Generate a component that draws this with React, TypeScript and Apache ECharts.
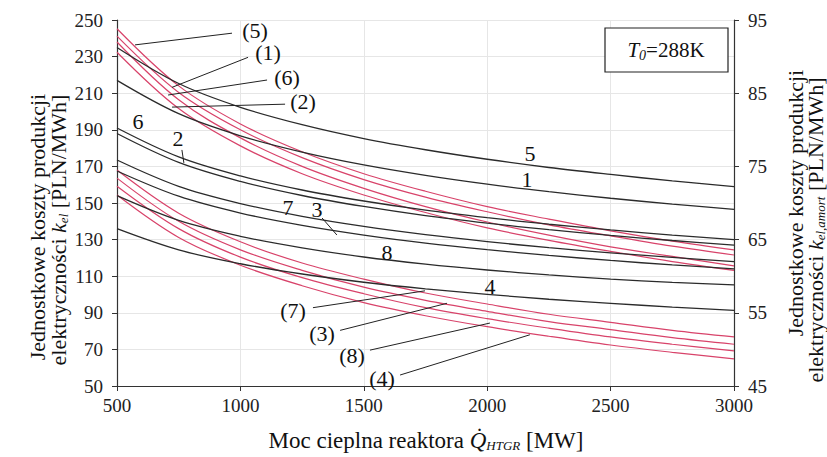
import React, { useEffect, useRef } from "react";
import * as echarts from "echarts";

// Thermal power of the reactor [MW]
const Q = [500, 750, 1000, 1250, 1500, 1750, 2000, 2250, 2500, 2750, 3000];

// Black curves: k_el [PLN/MWh] (left axis)
const black5 = [235, 215.3, 202.3, 192.8, 185.2, 179.1, 173.9, 169.4, 165.6, 162.1, 159];
const black1 = [217, 198.8, 186.7, 177.8, 170.8, 165.1, 160.3, 156.2, 152.6, 149.4, 146.5];
const black6 = [191, 175.2, 164.8, 157.1, 151.1, 146.1, 142.0, 138.4, 135.3, 132.5, 130];
const black2 = [188, 172.2, 161.8, 154.1, 148.1, 143.1, 139.0, 135.4, 132.3, 129.5, 127];
const black7 = [173.5, 159.1, 149.7, 142.7, 137.2, 132.7, 128.9, 125.6, 122.8, 120.3, 118];
const black3 = [167.5, 153.7, 144.5, 137.8, 132.5, 128.1, 124.5, 121.4, 118.6, 116.2, 114];
const black8 = [154, 140.5, 131.8, 125.5, 120.5, 116.6, 113.4, 110.7, 108.4, 106.6, 105.3];
const black4 = [136, 124.4, 116.8, 111.2, 106.7, 103.1, 100.1, 97.4, 95.2, 93.1, 91.3];

// Red curves: k_el,amort [PLN/MWh] (right axis)
const red5 = [93.8, 86.0, 80.8, 77.0, 74.0, 71.6, 69.5, 67.8, 66.2, 64.8, 63.6];
const red1 = [92.8, 85.1, 80.0, 76.2, 73.2, 70.8, 68.8, 67.0, 65.5, 64.1, 62.9];
const red6 = [92.0, 84.1, 78.9, 75.0, 72.0, 69.5, 67.4, 65.6, 64.0, 62.7, 61.4];
const red2 = [90.6, 82.9, 77.8, 74.0, 71.1, 68.7, 66.6, 64.9, 63.4, 62.0, 60.8];
const red7 = [74.5, 68.6, 64.7, 61.8, 59.6, 57.7, 56.2, 54.8, 53.7, 52.6, 51.7];
const red3 = [73.4, 67.5, 63.6, 60.8, 58.5, 56.7, 55.2, 53.8, 52.7, 51.6, 50.7];
const red8 = [72.3, 66.5, 62.6, 59.8, 57.6, 55.7, 54.2, 52.9, 51.7, 50.7, 49.8];
const red4 = [71.1, 65.3, 61.5, 58.7, 56.4, 54.6, 53.1, 51.8, 50.6, 49.6, 48.7];

// Axis ranges [min, max, interval]
const xRange = [500, 3000, 500];
const leftRange = [50, 250, 20];
const rightRange = [45, 95, 10];

// Curve labels: [text, Q, value, axisIndex]
const curveLabels: [string, number, number, number][] = [
  ["5", 2173, 177.3, 0],
  ["1", 2161, 162.6, 0],
  ["6", 585, 194.3, 0],
  ["2", 747, 185.5, 0],
  ["7", 1193, 147.8, 0],
  ["3", 1310, 146.2, 0],
  ["8", 1594, 122.7, 0],
  ["4", 2011, 104.1, 0],
  ["(5)", 1059, 93.6, 1],
  ["(1)", 1112, 90.5, 1],
  ["(6)", 1189, 87.2, 1],
  ["(2)", 1254, 83.8, 1],
  ["(7)", 1213, 55.25, 1],
  ["(3)", 1331, 52.2, 1],
  ["(8)", 1452, 49.1, 1],
  ["(4)", 1574, 46.0, 1],
];

// Leader lines: [Q1, v1, Q2, v2, axisIndex]
const leaders: [number, number, number, number, number][] = [
  [763, 179, 771, 171.9, 0],
  [1331, 141.8, 1391, 132.5, 0],
  [966, 93.2, 573, 91.6, 1],
  [1031, 89.9, 723, 85.8, 1],
  [1108, 86.8, 707, 84.75, 1],
  [1181, 83.5, 723, 83.1, 1],
  [1294, 55.7, 1748, 58.0, 1],
  [1404, 52.6, 1837, 56.3, 1],
  [1525, 49.9, 2011, 53.6, 1],
  [1647, 46.5, 2173, 52.0, 1],
];

const FONT = "'Liberation Serif', 'Times New Roman', serif";
const RED = "#d8436a";
const BLACK = "#2b2b2b";

const blackSets = [black5, black1, black6, black2, black7, black3, black8, black4];
const redSets = [red5, red1, red6, red2, red7, red3, red8, red4];
const names = ["5", "1", "6", "2", "7", "3", "8", "4"];

export default function App() {
  const ref = useRef<HTMLDivElement>(null);
  useEffect(() => {
    if (!ref.current) return;
    const chart = echarts.init(ref.current, undefined, { renderer: "svg" });
    const series: any[] = [];
    blackSets.forEach((d, i) => {
      series.push({
        name: names[i],
        type: "line",
        yAxisIndex: 0,
        data: Q.map((q, j) => [q, d[j]]),
        showSymbol: false,
        smooth: 0.35,
        lineStyle: { color: BLACK, width: 1.3 },
        z: 3,
      });
    });
    redSets.forEach((d, i) => {
      series.push({
        name: "(" + names[i] + ")",
        type: "line",
        yAxisIndex: 1,
        data: Q.map((q, j) => [q, d[j]]),
        showSymbol: false,
        smooth: 0.35,
        lineStyle: { color: RED, width: 1.2 },
        z: 2,
      });
    });
    const axisLabel = {
      color: "#222",
      fontFamily: FONT,
      fontSize: 19,
      formatter: (v: number) => String(v),
    };
    chart.setOption({
      animation: false,
      backgroundColor: "#fff",
      grid: { left: 117, right: 93, top: 20, bottom: 71 },
      xAxis: {
        type: "value",
        min: xRange[0],
        max: xRange[1],
        interval: xRange[2],
        axisLine: { lineStyle: { color: "#333", width: 1.2 } },
        axisTick: { show: true, length: 5, lineStyle: { color: "#333" } },
        axisLabel: { ...axisLabel, margin: 10 },
        splitLine: { show: true, lineStyle: { color: "#e6e6e6", width: 1 } },
      },
      yAxis: [
        {
          type: "value",
          min: leftRange[0],
          max: leftRange[1],
          interval: leftRange[2],
          axisLine: { show: true, lineStyle: { color: "#333", width: 1.2 } },
          axisTick: { show: true, length: 5, lineStyle: { color: "#333" } },
          axisLabel: { ...axisLabel, margin: 14 },
          splitLine: { show: true, lineStyle: { color: "#e6e6e6", width: 1 } },
        },
        {
          type: "value",
          min: rightRange[0],
          max: rightRange[1],
          interval: rightRange[2],
          position: "right",
          axisLine: { show: true, lineStyle: { color: "#333", width: 1.2 } },
          axisTick: { show: true, length: 5, lineStyle: { color: "#333" } },
          axisLabel: { ...axisLabel, margin: 14 },
          splitLine: { show: false },
        },
      ],
      series,
    });

    const px = (q: number, v: number, ai: number) =>
      chart.convertToPixel({ xAxisIndex: 0, yAxisIndex: ai } as any, [q, v]) as number[];

    const graphic: any[] = [];
    leaders.forEach(([q1, v1, q2, v2, ai]) => {
      const a = px(q1, v1, ai);
      const b = px(q2, v2, ai);
      graphic.push({
        type: "line",
        shape: { x1: a[0], y1: a[1], x2: b[0], y2: b[1] },
        style: { stroke: "#222", lineWidth: 1 },
        z: 10,
      });
    });
    curveLabels.forEach(([t, q, v, ai]) => {
      const p = px(q, v, ai);
      graphic.push({
        type: "text",
        x: p[0],
        y: p[1],
        style: {
          text: t,
          fill: "#111",
          font: `22px ${FONT}`,
          align: "center",
          verticalAlign: "middle",
        },
        z: 11,
      });
    });
    // T0 box
    graphic.push({
      type: "rect",
      shape: { x: 605, y: 28, width: 123, height: 44 },
      style: { fill: "#fff", stroke: "#222", lineWidth: 1.2 },
      z: 12,
    });
    graphic.push({
      type: "text",
      x: 666,
      y: 50,
      style: {
        text: "{i|T}{s|0}{n|=288K}",
        align: "center",
        verticalAlign: "middle",
        rich: {
          i: { fontFamily: FONT, fontSize: 21, fontStyle: "italic", fill: "#111" },
          s: { fontFamily: FONT, fontSize: 14, fontStyle: "italic", fill: "#111", verticalAlign: "bottom", padding: [10, 0, 0, 0] },
          n: { fontFamily: FONT, fontSize: 21, fill: "#111" },
        },
      },
      z: 13,
    });
    // Axis titles
    const titleRich = {
      n: { fontFamily: FONT, fontSize: 22, fill: "#111" },
      i: { fontFamily: FONT, fontSize: 22, fontStyle: "italic", fill: "#111" },
      s: { fontFamily: FONT, fontSize: 13, fontStyle: "italic", fill: "#111", verticalAlign: "bottom", padding: [10, 0, 0, 0] },
    };
    const xTitleRich = {
      n: { fontFamily: FONT, fontSize: 23, fill: "#111" },
      i: { fontFamily: FONT, fontSize: 23, fontStyle: "italic", fill: "#111" },
      s: { fontFamily: FONT, fontSize: 13, fontStyle: "italic", fill: "#111", verticalAlign: "bottom", padding: [10, 0, 0, 0] },
    };
    graphic.push({
      type: "text",
      x: 426,
      y: 440,
      style: {
        text: "{n|Moc cieplna reaktora }{i|Q̇}{s|HTGR}{n| [MW]}",
        align: "center",
        verticalAlign: "middle",
        rich: xTitleRich,
      },
    });
    graphic.push({
      type: "text",
      x: 37,
      y: 227,
      rotation: Math.PI / 2,
      style: {
        text: "{n|Jednostkowe koszty produkcji}",
        align: "center",
        verticalAlign: "middle",
        rich: titleRich,
      },
    });
    graphic.push({
      type: "text",
      x: 58,
      y: 230,
      rotation: Math.PI / 2,
      style: {
        text: "{n|elektryczności }{i|k}{s|el}{n| [PLN/MWh]}",
        align: "center",
        verticalAlign: "middle",
        rich: titleRich,
      },
    });
    graphic.push({
      type: "text",
      x: 795,
      y: 203,
      rotation: Math.PI / 2,
      style: {
        text: "{n|Jednostkowe koszty produkcji}",
        align: "center",
        verticalAlign: "middle",
        rich: titleRich,
      },
    });
    graphic.push({
      type: "text",
      x: 815,
      y: 230,
      rotation: Math.PI / 2,
      style: {
        text: "{n|elektryczności }{i|k}{s|el,amort}{n| [PLN/MWh]}",
        align: "center",
        verticalAlign: "middle",
        rich: titleRich,
      },
    });
    chart.setOption({ graphic });

    return () => chart.dispose();
  }, []);
  return (
    <div
      ref={ref}
      style={{ position: "absolute", left: 0, top: 0, width: 827, height: 457, background: "#fff" }}
    />
  );
}
